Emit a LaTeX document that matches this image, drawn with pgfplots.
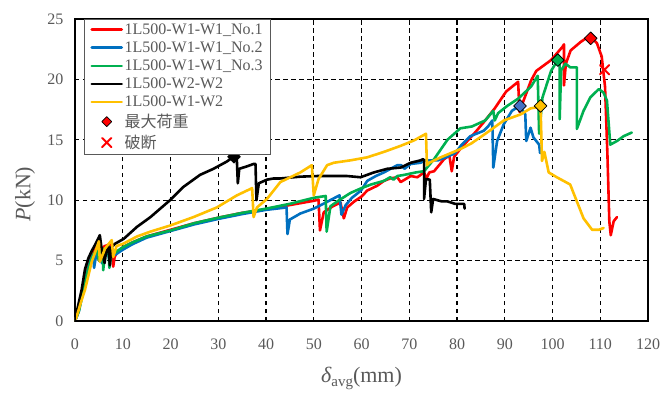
\documentclass[border=0pt]{standalone}
\usepackage{pgfplots}
\pgfplotsset{compat=1.18}
\usepackage{fontspec}
\setmainfont{Liberation Serif}
\newfontfamily\cjk{Noto Sans CJK JP}
\definecolor{cred}{HTML}{FF0000}
\definecolor{cblue}{HTML}{0070C0}
\definecolor{cgreen}{HTML}{00B050}
\definecolor{cyel}{HTML}{FFC000}
\definecolor{cdia}{HTML}{4472C4}
\definecolor{txt}{HTML}{595959}
\begin{document}
\begin{tikzpicture}
\begin{axis}[
  width=573pt, height=302pt, scale only axis,
  xmin=0, xmax=120, ymin=0, ymax=25,
  xtick distance=10, ytick distance=5,
  grid=major,
  grid style={black, line width=1.3pt, dash pattern=on 4.5pt off 3.5pt},
  axis line style={black, line width=1.4pt},
  tick pos=left,
  xtick style={draw=none},
  ytick style={black, line width=1pt},
  major tick length=4pt,
  tick label style={font=\fontsize{16}{16}\selectfont, text=txt},
  /pgf/number format/assume math mode=true,
  xticklabel style={yshift=-14pt},
  yticklabel style={xshift=-8pt},
  xlabel={{\itshape δ}\raisebox{-0.35ex}{\fontsize{15}{15}\selectfont avg}(mm)},
  ylabel={{\itshape P}(kN)},
  label style={font=\fontsize{22}{22}\selectfont, text=txt},
  xlabel style={at={(axis description cs:0.5,-0.19)}, anchor=center},
  ylabel style={at={(axis description cs:-0.087,0.42)}, anchor=center, rotate=0},
  legend style={at={(axis description cs:0.0157,1)}, anchor=north west,
    draw=txt, line width=0.9pt, fill=white, inner xsep=6pt, inner ysep=2.5pt,
    font=\fontsize{16}{16}\selectfont, text=txt, row sep=3pt,
    nodes={inner sep=1.5pt}},
  legend cell align=left,
  legend image code/.code={\draw[mark repeat=2,mark phase=2,#1] plot coordinates {(0pt,0pt) (15pt,0pt) (30pt,0pt)};},
  every axis plot/.append style={line width=2.6pt, line join=round, line cap=round},
]
% red No.1
\addplot[cred, line width=2.6pt] coordinates {
(0,0) (0.8,1) (1.6,2.5) (2.4,4) (3.2,5.2) (4.0,5.8) (4.6,6.1) (5.0,5.0) (5.4,5.9) (6.2,6.2) (7.0,6.3) (7.6,6.5) (8.0,4.5) (8.3,5.3) (9.0,5.8) (10,6.1) (12,6.5) (15,7.0) (20,7.55) (25,8.1) (30,8.55) (35,8.95) (40,9.25) (45,9.6) (50,9.95) (51,10.05) (51.3,7.5) (52.1,9.0) (54,9.5) (55.6,9.8) (56.3,8.5) (57,9.4) (58.5,9.9) (60,10.3) (61.2,10.8) (63.3,11.2) (64.7,11.6) (66,11.8) (67.5,11.9) (68.2,11.5) (70.3,12.0) (71.7,11.9) (73.1,12.3) (73.6,11.8) (74.2,12.3) (75.2,12.4) (77.3,13.4) (78.4,13.7) (78.9,12.4) (79.4,13.6) (80.8,14.3) (82.4,15.0) (84,15.7) (85.9,16.6) (87.9,17.6) (90.3,19) (92.8,19.8) (93.1,17.3) (93.8,18.1) (95.5,19.9) (96.6,20.7) (99.7,21.6) (102.1,22.7) (102.4,22.9) (102.4,19.5) (102.8,21.3) (103.8,22.4) (105.9,23.1) (107,23.4) (108.1,23.5) (109.3,23) (110.3,21.9) (111,19.4) (111.5,13.8) (111.9,8.25) (112.2,7.1) (112.8,8.25) (113.5,8.6)
};
\addlegendentry{1L500-W1-W1\_No.1}
% blue No.2
\addplot[cblue, line width=2.6pt] coordinates {
(0,0) (0.8,0.8) (1.6,2.3) (2.5,4) (3.3,5.1) (3.8,5.5) (4.0,4.4) (4.4,5.4) (5.2,5.9) (5.6,4.8) (6.0,5.7) (6.8,6.0) (7.2,5.0) (7.6,5.5) (8.5,5.5) (10,5.9) (12,6.35) (15,6.9) (20,7.45) (25,8.0) (30,8.45) (35,8.85) (40,9.2) (44.3,9.4) (44.5,7.2) (45,8.4) (47.2,8.9) (50,9.3) (52,9.7) (54.9,10.3) (55.4,10.4) (55.8,8.8) (56.7,9.6) (58,10.2) (59.9,10.8) (61.2,11.6) (63,12.0) (64.7,12.3) (67.5,12.9) (68.3,12.9) (69,12.6) (70.3,13.0) (72.4,13.1) (73.2,13.3) (76,13.3) (78,13.6) (79.6,13.9) (81,14.6) (82.8,15.3) (85.6,15.75) (86.5,16.1) (87.4,16.6) (87.6,12.7) (88.4,14.9) (89.8,16.3) (91.5,17.4) (93.1,17.8) (94.3,17.1) (94.5,14.9) (95.4,16) (96,15.2) (97.2,14.6) (97.4,13.9)
};
\addlegendentry{1L500-W1-W1\_No.2}
% green No.3
\addplot[cgreen, line width=2.6pt] coordinates {
(0,0) (0.8,0.8) (1.6,2.2) (2.5,3.9) (3.3,5) (4.0,5.6) (4.6,5.9) (5.0,5.0) (5.4,5.7) (5.8,6.0) (5.9,4.2) (6.3,5.6) (7.0,6.0) (7.2,4.4) (7.6,5.5) (8.5,5.7) (10,6.1) (12,6.5) (15,7.0) (20,7.5) (25,8.1) (30,8.55) (35,8.95) (40,9.3) (45,9.7) (50,10.2) (52.5,10.35) (52.7,7.4) (53.5,9.5) (55.3,10.0) (57.7,10.6) (60,11.0) (62,11.3) (64.7,11.6) (66,11.9) (66.7,11.7) (67.5,12.0) (69,12.1) (71.4,12.3) (73.1,12.4) (75.2,13.4) (76.6,14.2) (78,15.0) (80.7,15.95) (83.1,16.1) (85.9,16.6) (87.6,17.4) (87.9,16.6) (88.6,17.2) (90.5,17.8) (92.8,18.4) (95.5,19.4) (96.9,20.3) (97.2,15.5) (97.9,18.5) (99.7,20.7) (101.1,21.6) (101.5,21.3) (101.5,16.7) (101.8,20.75) (102.7,21.3) (103.7,21) (105.1,21) (105.1,15.9) (106.5,17.4) (107.9,18.5) (109.7,19.2) (110.7,18.9) (111.4,18.25) (112.1,14.6) (113.5,14.9) (114.9,15.3) (116.6,15.6)
};
\addlegendentry{1L500-W1-W1\_No.3}
% black W2-W2
\addplot[black, line width=2.6pt] coordinates {
(0,0) (0.5,1) (1.4,2.6) (2.1,4.3) (2.8,5.2) (3.5,5.8) (4.2,6.3) (5.2,7.1) (5.6,5.9) (6.2,4.8) (6.6,6.0) (7.0,6.2) (7.3,4.6) (7.6,6.1) (8.4,6.4) (10.2,6.8) (13,7.8) (15.8,8.6) (19.9,10) (22.7,11.1) (26.2,12.1) (29,12.6) (31.8,13.2) (33.2,13.6) (33.9,13.3) (34.1,11.4) (34.4,12.6) (36,12.8) (37.4,13.0) (37.8,13.0) (38.0,10.0) (38.5,11.4) (40.2,11.7) (41.6,11.8) (43,11.8) (47.2,11.95) (50.7,12.0) (54.2,12.0) (57,12.0) (59.8,11.9) (62.6,12.3) (65.4,12.6) (68.2,12.7) (70.3,13.1) (72.4,13.3) (72.9,13.4) (73.1,13.3) (73.1,10.1) (73.5,11.75) (74.3,11.7) (74.6,9.0) (75,10.1) (76.8,9.9) (78,9.9) (79.6,9.7) (81.5,9.7) (81.6,9.3)
};
\addlegendentry{1L500-W2-W2}
% yellow W1-W2
\addplot[cyel, line width=2.6pt] coordinates {
(0,0) (0.3,0.3) (1.2,1.5) (2.1,2.6) (3.5,4.9) (4.5,6.0) (5.0,6.6) (5.2,4.9) (6.3,6.0) (7.7,6.7) (8.0,5.3) (8.7,6.2) (10.1,6.4) (13,7.0) (15.8,7.4) (19.9,7.9) (24.8,8.6) (29.7,9.4) (33.9,10.4) (37.1,11.0) (37.4,8.6) (38.1,9.4) (40.2,10.1) (43,11.5) (47.2,12.3) (49.6,12.9) (50,10.4) (51,11.75) (52.8,12.9) (54.2,13.1) (57.7,13.3) (61.2,13.55) (64.7,14.0) (68.2,14.5) (71,14.95) (73.5,15.5) (73.7,12.9) (74.2,13.1) (76.6,13.55) (80.8,14.25) (83,14.7) (86.3,15.6) (89.8,16.6) (93.3,17.1) (95.4,17.6) (97.5,17.75) (97.8,13.25) (98.3,14.0) (99.2,12.3) (100.9,11.9) (103.7,11.3) (105.1,9.9) (106.5,8.5) (108.3,7.55) (109.7,7.55) (110.7,7.7)
};
\addlegendentry{1L500-W1-W2}
% max load markers
\addplot[only marks, mark=square*, mark size=4.5pt, mark options={rotate=45, draw=black, line width=0.8pt, fill=black}, forget plot] coordinates {(33.3,13.6)};
\addplot[only marks, mark=square*, mark size=4.5pt, mark options={rotate=45, draw=black, line width=0.8pt, fill=cdia}, forget plot] coordinates {(93.2,17.8)};
\addplot[only marks, mark=square*, mark size=4.5pt, mark options={rotate=45, draw=black, line width=0.8pt, fill=cyel}, forget plot] coordinates {(97.5,17.8)};
\addplot[only marks, mark=square*, mark size=4.5pt, mark options={rotate=45, draw=black, line width=0.8pt, fill=cgreen}, forget plot] coordinates {(101.1,21.6)};
\addplot[only marks, mark=square*, mark size=4.5pt, mark options={rotate=45, draw=black, line width=0.8pt, fill=cred}, forget plot] coordinates {(108.0,23.4)};
\addlegendimage{only marks, mark=square*, mark size=3.5pt, mark options={rotate=45, draw=black, line width=0.8pt, fill=cred}}
\addlegendentry{{\cjk 最大荷重}}
\addplot[only marks, mark=x, mark size=6.5pt, mark options={cred, line width=2pt}, cred] coordinates {(110.9,20.8)};
\addlegendentry{{\cjk 破断}}
\draw[black, line width=2pt] (rel axis cs:0,1) -- (rel axis cs:0,0) -- (rel axis cs:1,0);
\end{axis}
\path ([shift={(-75pt,-78pt)}]current axis.south west) rectangle ([shift={(591pt,321pt)}]current axis.south west);
\end{tikzpicture}
\end{document}
